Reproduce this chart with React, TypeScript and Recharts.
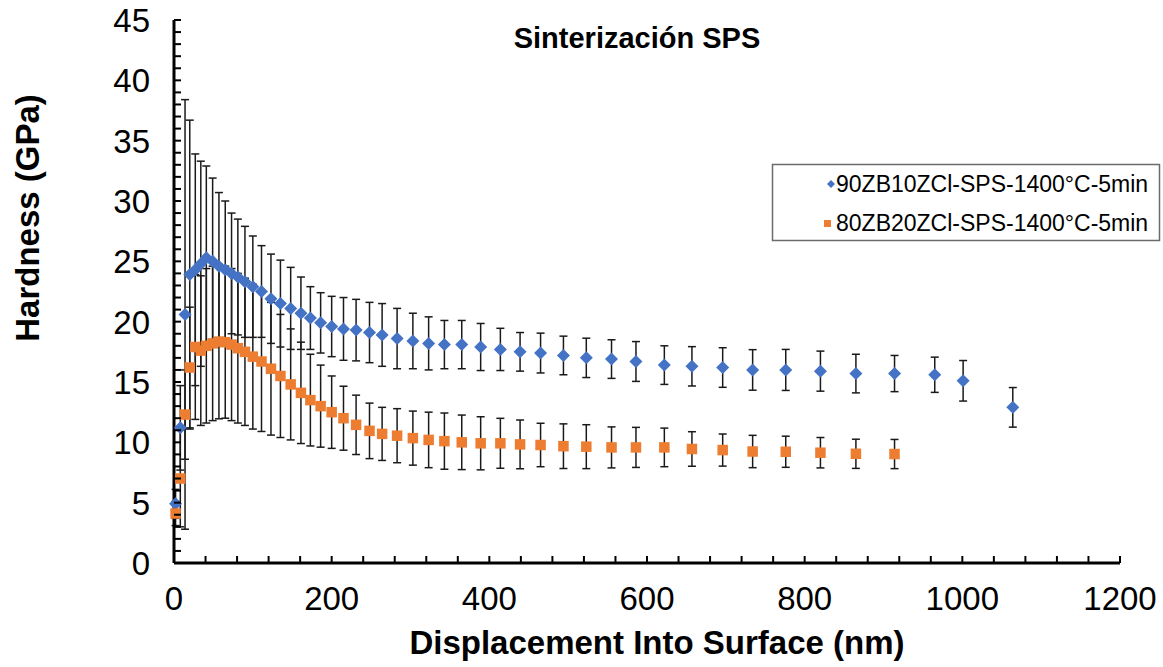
import React from 'react';
import { ScatterChart, Scatter, XAxis, YAxis, ErrorBar } from 'recharts';

// displacement into surface (nm), shared by both samples
const displacement = [
  2, 8, 14, 20, 27, 34, 41, 49, 57, 65,
  73, 81, 90, 100, 111, 123, 135, 148, 161, 173,
  186, 200, 215, 231, 248, 264, 283, 303, 323, 343,
  365, 389, 414, 439, 465, 494, 523, 555, 586, 622,
  657, 696, 734, 776, 820, 865, 914, 965, 1001, 1064,
];

// 90ZB10ZCl hardness (GPa) and std dev
const hardness90 = [
  4.9, 11.2, 20.6, 23.9, 24.3, 24.8, 25.3, 25.0, 24.6, 24.3,
  24.0, 23.7, 23.3, 22.9, 22.5, 21.9, 21.5, 21.1, 20.7, 20.3,
  19.9, 19.6, 19.4, 19.3, 19.1, 18.9, 18.6, 18.4, 18.2, 18.1,
  18.1, 17.9, 17.7, 17.5, 17.4, 17.2, 17.0, 16.9, 16.7, 16.4,
  16.3, 16.2, 16.0, 16.0, 15.9, 15.7, 15.7, 15.6, 15.1, 12.9,
];
const error90 = [
  1.2, 3.5, 17.8, 12.8, 9.6, 8.5, 7.6, 6.9, 6.1, 5.7,
  5.0, 4.8, 4.6, 4.2, 3.8, 3.7, 3.6, 3.4, 3.0, 2.6,
  2.5, 2.5, 2.6, 2.55, 2.5, 2.6, 2.5, 2.3, 2.2, 2.0,
  2.0, 1.95, 1.75, 1.6, 1.65, 1.6, 1.63, 1.6, 1.65, 1.6,
  1.63, 1.64, 1.68, 1.7, 1.66, 1.6, 1.5, 1.46, 1.68, 1.64,
];

// 80ZB20ZCl hardness (GPa) and std dev (stops at 914 nm)
const hardness80 = [
  4.1, 7.0, 12.3, 16.2, 17.9, 17.6, 18.0, 18.2, 18.35, 18.3,
  18.1, 17.8, 17.5, 17.1, 16.7, 16.1, 15.5, 14.8, 14.1, 13.5,
  13.0, 12.5, 12.0, 11.45, 10.95, 10.7, 10.55, 10.35, 10.2, 10.1,
  10.0, 9.92, 9.92, 9.83, 9.78, 9.68, 9.64, 9.58, 9.58, 9.58,
  9.45, 9.36, 9.24, 9.22, 9.14, 9.05, 9.03,
];
const error80 = [
  1.0, 4.0, 3.7, 5.0, 6.0, 6.2, 6.4, 6.4, 6.4, 6.3,
  6.3, 6.2, 6.1, 6.0, 5.8, 5.5, 5.1, 4.6, 4.2, 3.8,
  3.4, 3.0, 2.65, 2.46, 2.3, 2.2, 2.24, 2.24, 2.3, 2.33,
  2.26, 2.2, 2.07, 2.02, 1.8, 1.85, 1.82, 1.7, 1.66, 1.6,
  1.43, 1.33, 1.34, 1.29, 1.26, 1.21, 1.21,
];

const xMajor = [0, 200, 400, 600, 800, 1000, 1200];
const yMajor = [0, 5, 10, 15, 20, 25, 30, 35, 40, 45];
const xTicks = Array.from({ length: 31 }, (_, i) => i * 40);
const yTicks = Array.from({ length: 46 }, (_, i) => i);

const seriesNames = ['90ZB10ZCl-SPS-1400°C-5min', '80ZB20ZCl-SPS-1400°C-5min'];
const BLUE = '#4472C4';
const ORANGE = '#ED7D31';
const FONT = "'Liberation Sans', Arial, sans-serif";

const data90 = hardness90.map((h, i) => ({ x: displacement[i], y: h, err: error90[i] }));
const data80 = hardness80.map((h, i) => ({ x: displacement[i], y: h, err: error80[i] }));

const Diamond = (props: any) => {
  const { cx, cy } = props;
  const r = 6.5;
  return (
    <polygon
      points={`${cx},${cy - r} ${cx + r},${cy} ${cx},${cy + r} ${cx - r},${cy}`}
      fill={BLUE}
    />
  );
};

const Square = (props: any) => {
  const { cx, cy } = props;
  const s = 10.5;
  return <rect x={cx - s / 2} y={cy - s / 2} width={s} height={s} fill={ORANGE} />;
};

const XTick = (props: any) => {
  const { x, y, payload } = props;
  return (
    <g>
      <line x1={x} y1={y} x2={x} y2={y - 7} stroke="#000" strokeWidth={2} />
      {xMajor.includes(payload.value) && (
        <text x={x} y={y + 47} textAnchor="middle" fontSize={33} fontFamily={FONT} fill="#000">
          {payload.value}
        </text>
      )}
    </g>
  );
};

const YTick = (props: any) => {
  const { x, y, payload } = props;
  return (
    <g>
      <line x1={x} y1={y} x2={x + 7} y2={y} stroke="#000" strokeWidth={2} />
      {yMajor.includes(payload.value) && (
        <text x={x - 24} y={y} dy="0.36em" textAnchor="end" fontSize={33} fontFamily={FONT} fill="#000">
          {payload.value}
        </text>
      )}
    </g>
  );
};

export default function App() {
  return (
    <div style={{ position: 'absolute', left: 0, top: 0, width: 1163, height: 667, background: '#fff' }}>
      <ScatterChart width={1163} height={667} margin={{ top: 20, right: 43, bottom: 0, left: 0 }}>
        <XAxis
          dataKey="x"
          type="number"
          domain={[0, 1200]}
          ticks={xTicks}
          interval={0}
          height={104}
          tickSize={0}
          tickMargin={0}
          tickLine={false}
          axisLine={{ stroke: '#000', strokeWidth: 3 }}
          tick={(p: any) => <XTick {...p} />}
        />
        <YAxis
          dataKey="y"
          type="number"
          domain={[0, 45]}
          ticks={yTicks}
          interval={0}
          width={174}
          tickSize={0}
          tickMargin={0}
          tickLine={false}
          axisLine={{ stroke: '#000', strokeWidth: 3 }}
          tick={(p: any) => <YTick {...p} />}
        />
        <Scatter name={seriesNames[0]} data={data90} shape={Diamond} isAnimationActive={false}>
          <ErrorBar dataKey="err" direction="y" width={4} stroke="#1a1a1a" strokeWidth={1.5} />
        </Scatter>
        <Scatter name={seriesNames[1]} data={data80} shape={Square} isAnimationActive={false}>
          <ErrorBar dataKey="err" direction="y" width={4} stroke="#1a1a1a" strokeWidth={1.5} />
        </Scatter>
      </ScatterChart>

      <svg
        width={1163}
        height={667}
        style={{ position: 'absolute', left: 0, top: 0, pointerEvents: 'none' }}
      >
        <text x={637} y={48} textAnchor="middle" fontSize={29} fontWeight="bold" fontFamily={FONT}>
          Sinterización SPS
        </text>
        <text x={657} y={654} textAnchor="middle" fontSize={33} fontWeight="bold" fontFamily={FONT}>
          Displacement Into Surface (nm)
        </text>
        <text
          x={39}
          y={218}
          textAnchor="middle"
          fontSize={33}
          fontWeight="bold"
          fontFamily={FONT}
          transform="rotate(-90, 39, 218)"
        >
          Hardness (GPa)
        </text>

        {/* legend */}
        <rect x={772.5} y={164.5} width={387} height={76} fill="#fff" stroke="#6b6b6b" strokeWidth={1.5} />
        <polygon points="831,180 835,184 831,188 827,184" fill={BLUE} />
        <text x={836} y={184} dy="0.36em" fontSize={23} fontFamily={FONT}>
          {seriesNames[0]}
        </text>
        <rect x={824} y={220} width={7} height={7} fill={ORANGE} />
        <text x={836} y={223} dy="0.36em" fontSize={23} fontFamily={FONT}>
          {seriesNames[1]}
        </text>
      </svg>
    </div>
  );
}
